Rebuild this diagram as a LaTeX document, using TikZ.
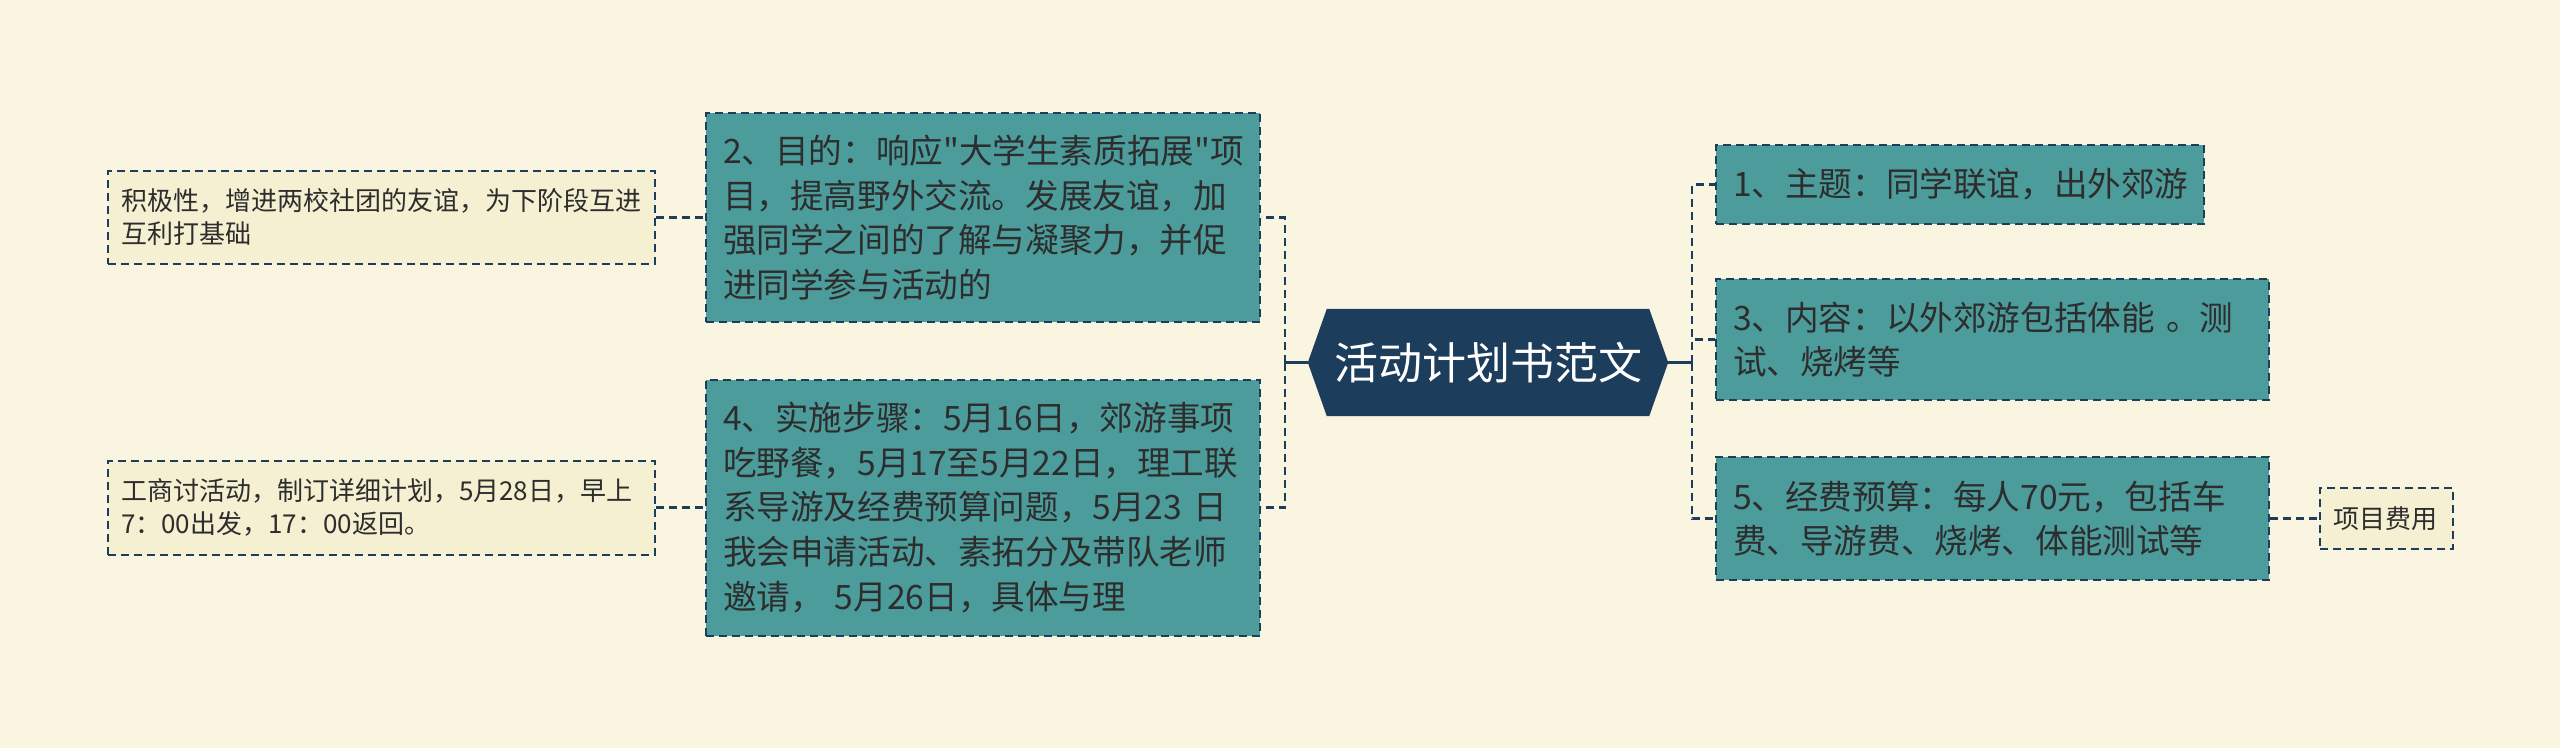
\documentclass[tikz,border=0pt]{standalone}
\usepackage{fontspec}
\newfontfamily\cjk{Noto Sans CJK SC}
\usetikzlibrary{positioning}
\definecolor{paper}{RGB}{250,245,225}
\definecolor{navy}{RGB}{28,61,92}
\definecolor{teal}{RGB}{77,156,156}
\definecolor{notefill}{RGB}{246,240,211}
\definecolor{ink}{RGB}{45,45,45}

\begin{document}
\begin{tikzpicture}[x=1pt, y=-1pt,
    topic/.style={draw=navy, line width=2pt, dash pattern=on 8pt off 5pt, fill=teal, text=ink,
        align=left, inner xsep=17pt, inner ysep=0pt, font=\cjk\fontsize{33.6pt}{44.6pt}\selectfont},
    note/.style={draw=navy, line width=2pt, dash pattern=on 8pt off 5pt, fill=notefill, text=ink,
        align=left, inner xsep=13pt, inner ysep=0pt, font=\cjk\fontsize{26pt}{33pt}\selectfont},
    link/.style={navy, line width=2.5pt, dash pattern=on 8pt off 5pt},
    trunk/.style={navy, line width=3pt}]
    \fill[paper] (0,0) rectangle (2560,748);

    \node[minimum width=360pt, minimum height=107pt, inner sep=0pt] (root) at (1488,362.5) {};
    \fill[navy] ([xshift=19pt]root.north west) -- ([xshift=-19pt]root.north east) -- (root.east)
        -- ([xshift=-19pt]root.south east) -- ([xshift=19pt]root.south west) -- (root.west) -- cycle;
    \node[text=white, font=\cjk\fontsize{44pt}{50pt}\selectfont] (title) at (root) {活动计划书范文};

    \node[topic, text width=520pt, minimum height=209pt, anchor=east] (goal) at (1261,217.5)
        {2、目的：响应"大学生素质拓展"项\\目，提高野外交流。发展友谊，加\\强同学之间的了解与凝聚力，并促\\进同学参与活动的};
    \node[topic, text width=520pt, minimum height=256pt, anchor=east] (steps) at (1261,507.5)
        {4、实施步骤：5月16日，郊游事项\\吃野餐，5月17至5月22日，理工联\\系导游及经费预算问题，5月23 日\\我会申请活动、素拓分及带队老师\\邀请， 5月26日，具体与理};
    \node[note, text width=521pt, minimum height=93pt, left=49pt of goal] (goalnote)
        {积极性，增进两校社团的友谊，为下阶段互进\\互利打基础};
    \node[note, text width=521pt, minimum height=94pt, left=49pt of steps] (stepsnote)
        {工商讨活动，制订详细计划，5月28日，早上\\7：00出发，17：00返回。};

    \node[topic, text width=454pt, minimum height=79pt, anchor=west] (theme) at (1715,184.5)
        {1、主题：同学联谊，出外郊游};
    \node[topic, text width=519pt, minimum height=121pt, anchor=west] (content) at (1715,339.5)
        {3、内容：以外郊游包括体能 。测\\试、烧烤等};
    \node[topic, text width=519pt, minimum height=123pt, anchor=west] (budget) at (1715,518.5)
        {5、经费预算：每人70元，包括车\\费、导游费、烧烤、体能测试等};
    \node[note, text width=107pt, minimum height=61pt, right=49pt of budget] (costnote) {项目费用};

    \coordinate (lfork) at (1285,362.5);
    \coordinate (rfork) at (1692,362.5);
    \draw[trunk] (root.west) -- (lfork);
    \draw[trunk] (root.east) -- (rfork);
    \draw[link] (lfork) |- (goal.east);
    \draw[link] (lfork) |- (steps.east);
    \draw[link] (rfork) |- (theme.west);
    \draw[link] (rfork) |- (content.west);
    \draw[link] (rfork) |- (budget.west);
    \draw[link] (goalnote.east) -- (goal.west);
    \draw[link] (stepsnote.east) -- (steps.west);
    \draw[link] (budget.east) -- (costnote.west);
\end{tikzpicture}
\end{document}
